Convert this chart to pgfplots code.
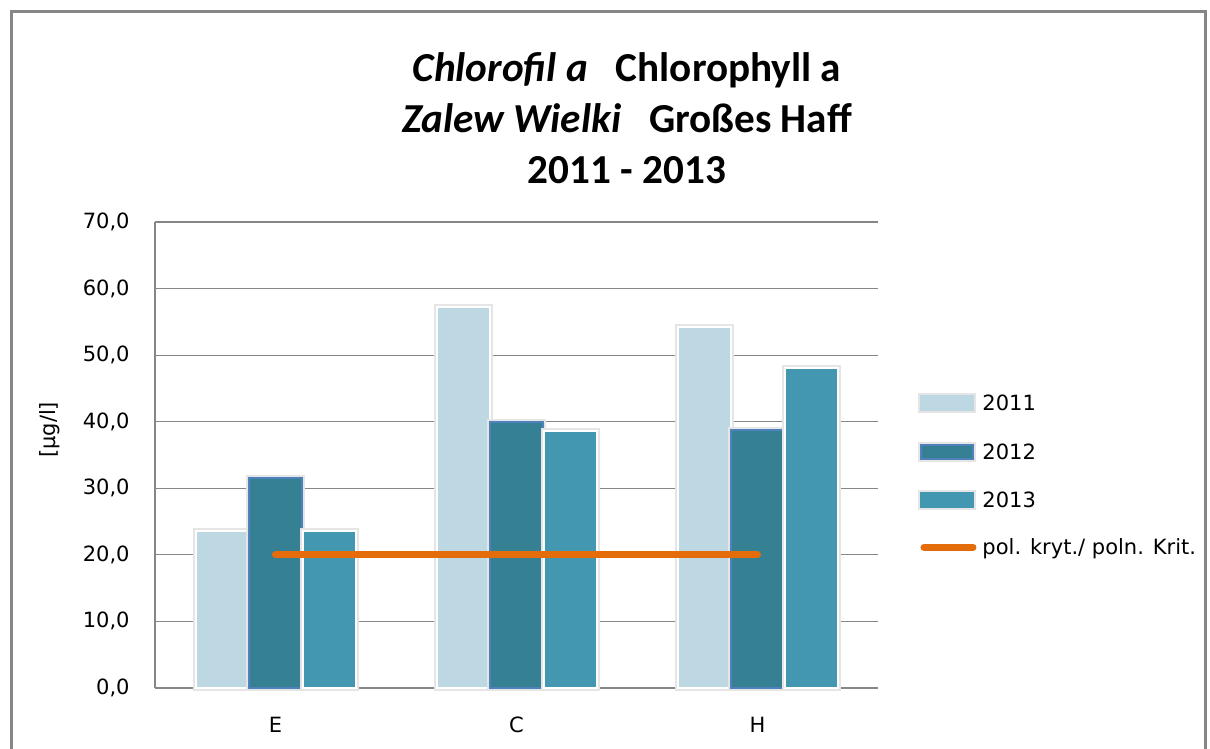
\documentclass[border=0pt]{standalone}
\usepackage{pgfplots}
\pgfplotsset{compat=1.18}
\usepackage{fontspec}
\setmainfont{DejaVu Sans}
\newfontfamily\titlefont{Carlito}

\definecolor{c2011}{RGB}{189,215,227}
\definecolor{c2012}{RGB}{54,128,148}
\definecolor{c2012e}{RGB}{79,129,189}
\definecolor{c2013}{RGB}{67,151,176}
\definecolor{corange}{RGB}{228,108,10}
\definecolor{cgrid}{RGB}{134,134,134}

\begin{document}
\begin{tikzpicture}
\useasboundingbox (0,0) rectangle (605pt,374.5pt);
\draw[cgrid, line width=1.5pt] (5.5pt,-2pt) -- (5.5pt,368.5pt) -- (602.5pt,368.5pt) -- (602.5pt,-2pt);
\node[font=\titlefont\bfseries\fontsize{20.6}{24}\selectfont, anchor=base, inner sep=0pt] at (313.5pt,333.5pt) {\itshape Chlorofil a\upshape\ \ \ Chlorophyll a};
\node[font=\titlefont\bfseries\fontsize{20.6}{24}\selectfont, anchor=base, inner sep=0pt] at (313.5pt,308pt) {\itshape Zalew Wielki\upshape\ \ \ Großes Haff};
\node[font=\titlefont\bfseries\fontsize{20.6}{24}\selectfont, anchor=base, inner sep=0pt] at (313.5pt,282.5pt) {2011 - 2013};
\begin{axis}[
  at={(77.5pt,30.5pt)}, anchor=south west, scale only axis,
  width=361.5pt, height=233pt,
  xmin=-0.5, xmax=2.5, ymin=0, ymax=70,
  xtick={0,1,2}, xticklabels={E,C,H},
  ytick={0,10,20,30,40,50,60,70},
  axis x line*=bottom, axis y line*=left,
  axis line style={-, cgrid},
  x axis line style={line width=1pt},
  y axis line style={line width=0.6pt},
  ymajorgrids, grid style={cgrid, line width=0.6pt},
  major tick length=0pt,
  clip=false,
  ticklabel style={font=\fontsize{10.5}{12}\selectfont},
  yticklabel style={anchor=east, inner sep=0pt, xshift=-12.5pt,
    /pgf/number format/fixed, /pgf/number format/fixed zerofill,
    /pgf/number format/precision=1, /pgf/number format/use comma,
    /pgf/number format/assume math mode=true},
  xticklabel style={anchor=north, inner sep=0pt, yshift=-14.5pt},
  ylabel={[µg/l]},
  ylabel style={at={(axis description cs:-0.145,0.554)}, anchor=center, font=\fontsize{10.5}{12}\selectfont},
  legend style={at={(axis description cs:1.0553,0.633)}, anchor=north west,
    draw=none, fill=none, inner sep=0pt, outer sep=0pt,
    row sep=13.5pt, column sep=3pt,
    font=\fontsize{10.5}{12}\selectfont,
    nodes={inner sep=0pt, text height=8pt, text depth=2pt}},
  legend cell align=left,
]
\addplot[ybar, bar width=26.5pt, bar shift=-26.75pt, fill=c2011, draw=white, line width=1pt,
  preaction={draw=black!10, line width=3pt},
  legend image code/.code={\fill[c2011] (0pt,-2.7pt) rectangle (26pt,4.3pt);}]
  coordinates {(0,23.6) (1,57.2) (2,54.2)};
\addlegendentry{2011}
\addplot[ybar, bar width=26.5pt, bar shift=0pt, fill=c2012, draw=c2012e, line width=1pt,
  preaction={draw=black!10, line width=3pt},
  legend image code/.code={\filldraw[fill=c2012, draw=c2012e, line width=1pt] (0pt,-2.7pt) rectangle (26pt,4.3pt);}]
  coordinates {(0,31.6) (1,39.9) (2,38.8)};
\addlegendentry{2012}
\addplot[ybar, bar width=26.5pt, bar shift=26.75pt, fill=c2013, draw=white, line width=1pt,
  preaction={draw=black!10, line width=3pt},
  legend image code/.code={\fill[c2013] (0pt,-2.7pt) rectangle (26pt,4.3pt);}]
  coordinates {(0,23.6) (1,38.6) (2,48.0)};
\addlegendentry{2013}
\addplot[corange, line width=3.5pt, line cap=round, mark=none,
  legend image code/.code={\draw[corange, line width=3.5pt, line cap=round] (1.5pt,0.8pt) -- (26pt,0.8pt);}]
  coordinates {(0,20) (1,20) (2,20)};
\addlegendentry{pol. kryt./ poln. Krit.}
\end{axis}
\end{tikzpicture}
\end{document}
